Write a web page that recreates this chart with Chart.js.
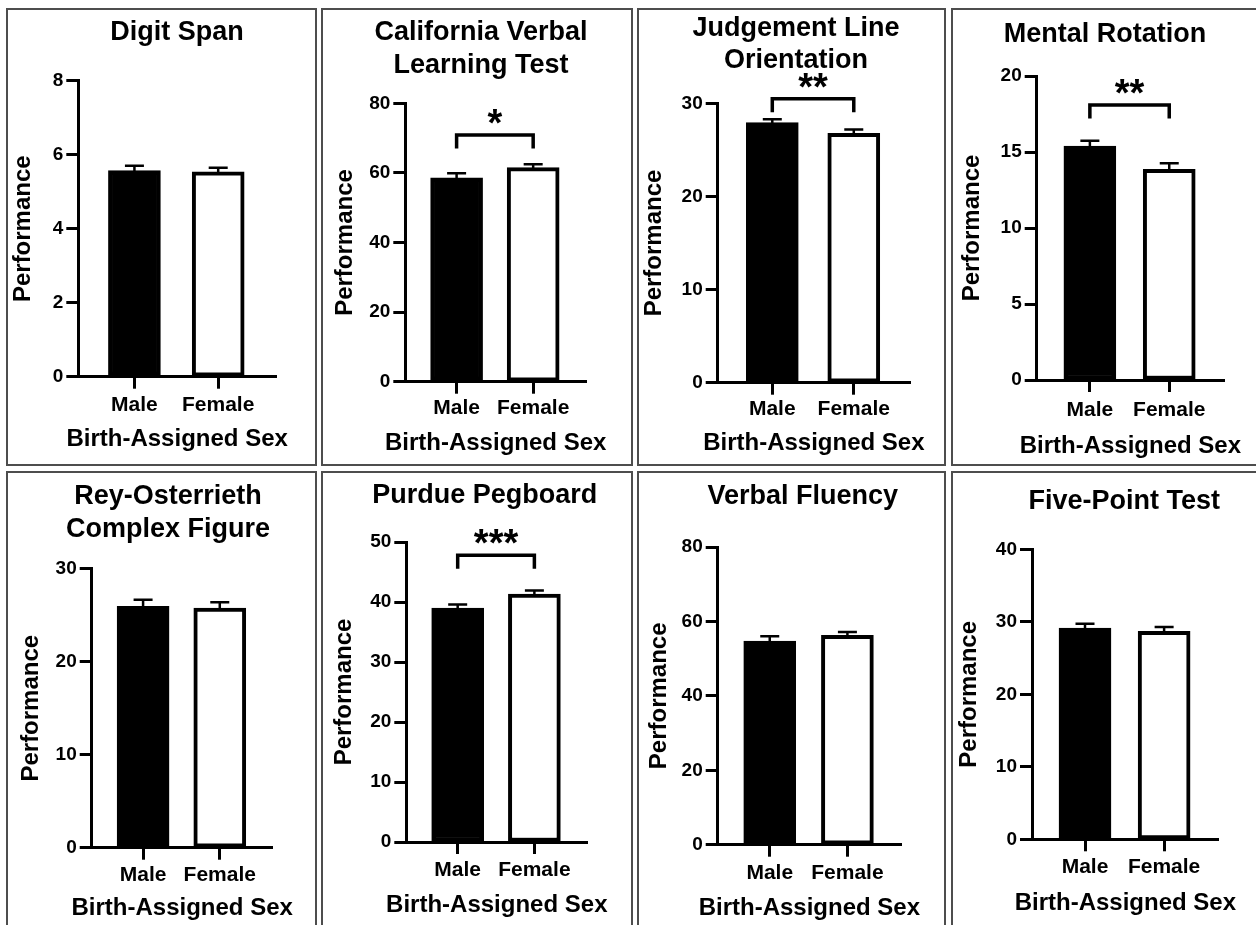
<!DOCTYPE html>
<html><head><meta charset="utf-8">
<script src="https://cdn.jsdelivr.net/npm/chart.js@4.4.1/dist/chart.umd.min.js"></script>
<style>
html,body{margin:0;padding:0;background:#fff;}
body{width:1256px;height:925px;position:relative;overflow:hidden;}
.frame{position:absolute;box-sizing:border-box;border:2px solid #4d4d4d;}
canvas{position:absolute;}
</style></head><body>
<script>
// ---------------- data ----------------
const categories = ['Male', 'Female'];
const testNames = [
  ['Digit Span'],
  ['California Verbal', 'Learning Test'],
  ['Judgement Line', 'Orientation'],
  ['Mental Rotation'],
  ['Rey-Osterrieth', 'Complex Figure'],
  ['Purdue Pegboard'],
  ['Verbal Fluency'],
  ['Five-Point Test']
];
const maleMean   = [5.57, 58.6, 27.92, 15.39, 25.96, 39.0, 54.74, 29.14];
const maleSem    = [0.13, 1.3, 0.38, 0.35, 0.71, 0.6, 1.26, 0.6];
const femaleMean = [5.54, 61.5, 26.78, 13.86, 25.77, 41.33, 56.27, 28.69];
const femaleSem  = [0.11, 1.0, 0.42, 0.40, 0.63, 0.57, 0.89, 0.59];
const yMax  = [8, 80, 30, 20, 30, 50, 80, 40];
const yStep = [2, 20, 10, 5, 10, 10, 20, 10];
const sigLabel = ['', '*', '**', '**', '', '***', '', ''];
const sigLevel = [null, 70.9, 30.5, 18.1, null, 47.8, null, null];
const yAxisTitle = 'Performance';
const xAxisTitle = 'Birth-Assigned Sex';

// ---------------- layout (page coordinates) ----------------
const FONT = "'Liberation Sans', Arial, Helvetica, sans-serif";
const colLeft = [6, 321, 637, 951], colWidth = [311, 312, 309, 320];
const rowTop = [8, 471], rowHeight = [458, 470];
const guide = [
  {axisX:78.3,  topY:80.7,  zeroY:376.7, rightX:276,    titleC:177,    titleY:33,    catY:405,   xTitleY:439,   yTitleX:23},
  {axisX:405.3, topY:103.3, zeroY:381.7, rightX:586,    titleC:481,    titleY:33,    catY:408,   xTitleY:443,   yTitleX:345},
  {axisX:717.7, topY:103.3, zeroY:382.7, rightX:910,    titleC:796,    titleY:28.3,  catY:409,   xTitleY:443,   yTitleX:654},
  {axisX:1036.7,topY:76,    zeroY:380,   rightX:1224,   titleC:1105,   titleY:35,    catY:410,   xTitleY:446.7, yTitleX:972.7},
  {axisX:91.7,  topY:568.7, zeroY:847.7, rightX:272.7,  titleC:168,    titleY:497,   catY:875.3, xTitleY:908.7, yTitleX:31.7},
  {axisX:406.3, topY:542,   zeroY:842,   rightX:587.3,  titleC:484.7,  titleY:495.3, catY:870.3, xTitleY:905.3, yTitleX:344.7},
  {axisX:717.7, topY:547,   zeroY:844.7, rightX:901,    titleC:802.7,  titleY:497,   catY:873.7, xTitleY:908.7, yTitleX:659.3},
  {axisX:1032,  topY:549.3, zeroY:839.3, rightX:1218.7, titleC:1124.3, titleY:502,   catY:867,   xTitleY:903.7, yTitleX:969.3}
];
const TITLE_SIZE = 27, AXIS_SIZE = 24, CAT_SIZE = 21, TICK_SIZE = 19, LH = 1.2;

function errorBarPlugin(p) {
  return { id: 'errorBars', afterDatasetsDraw(chart) {
    const ctx = chart.ctx, ys = chart.scales.y, meta = chart.getDatasetMeta(0);
    const means = [maleMean[p], femaleMean[p]], sems = [maleSem[p], femaleSem[p]];
    ctx.save(); ctx.strokeStyle = '#000'; ctx.lineWidth = 2.5;
    meta.data.forEach((bar, i) => {
      const yb = ys.getPixelForValue(means[i]);
      const yt = ys.getPixelForValue(means[i] + sems[i]);
      ctx.beginPath();
      ctx.moveTo(bar.x, yb + 2); ctx.lineTo(bar.x, yt);
      ctx.moveTo(bar.x - 9.5, yt); ctx.lineTo(bar.x + 9.5, yt);
      ctx.stroke();
    });
    ctx.restore();
  }};
}
function sigPlugin(p) {
  return { id: 'significance', afterDatasetsDraw(chart) {
    if (!sigLabel[p]) return;
    const ctx = chart.ctx, xs = chart.scales.x, ys = chart.scales.y;
    const x1 = xs.getPixelForValue(1), x2 = xs.getPixelForValue(2), y = ys.getPixelForValue(sigLevel[p]);
    ctx.save(); ctx.strokeStyle = '#000'; ctx.lineWidth = 3.5; ctx.lineJoin = 'miter';
    ctx.beginPath(); ctx.moveTo(x1, y + 13.5); ctx.lineTo(x1, y); ctx.lineTo(x2, y); ctx.lineTo(x2, y + 13.5); ctx.stroke();
    ctx.fillStyle = '#000'; ctx.font = 'bold 38px ' + FONT; ctx.textAlign = 'center'; ctx.textBaseline = 'alphabetic';
    ctx.fillText(sigLabel[p], (x1 + x2) / 2, y + 1);
    ctx.restore();
  }};
}
function textPlugin(p, g, x0, y0) {
  return { id: 'panelText', afterDraw(chart) {
    const ctx = chart.ctx, a = chart.chartArea;
    ctx.save(); ctx.fillStyle = '#000'; ctx.textAlign = 'center'; ctx.textBaseline = 'middle';
    ctx.font = 'bold ' + TITLE_SIZE + 'px ' + FONT;
    testNames[p].forEach((line, i) => ctx.fillText(line, g.titleC - x0, g.titleY - y0 + i * TITLE_SIZE * LH));
    ctx.font = 'bold ' + AXIS_SIZE + 'px ' + FONT;
    ctx.fillText(xAxisTitle, (a.left + a.right) / 2, g.xTitleY - y0);
    ctx.restore();
  }};
}

for (let p = 0; p < 8; p++) {
  const c = p % 4, r = Math.floor(p / 4);
  const frame = document.createElement('div');
  frame.className = 'frame';
  Object.assign(frame.style, {left: colLeft[c] + 'px', top: rowTop[r] + 'px', width: colWidth[c] + 'px', height: rowHeight[r] + 'px'});
  document.body.appendChild(frame);

  const x0 = colLeft[c] + 2, y0 = rowTop[r] + 2;
  const w = Math.min(colWidth[c] - 4, 1256 - x0), h = Math.min(rowHeight[r] - 4, 925 - y0);
  const cv = document.createElement('canvas');
  cv.width = w; cv.height = h;
  Object.assign(cv.style, {left: x0 + 'px', top: y0 + 'px', width: w + 'px', height: h + 'px'});
  document.body.appendChild(cv);

  const g = guide[p];
  const pr = x0 + w - g.rightX;
  const pt = g.topY - y0;
  const wy = g.axisX - x0;
  const hx = y0 + h - g.zeroY;
  const xTickPad = g.catY - g.zeroY - 12 - CAT_SIZE * LH / 2;
  const yTitlePad = g.yTitleX - x0 - AXIS_SIZE * LH / 2;

  const gridOpts = {display: true, drawOnChartArea: false, drawTicks: true, tickLength: 12, tickWidth: 3, tickColor: '#000', color: '#000', offset: false};
  const borderOpts = {display: true, color: '#000', width: 3};

  new Chart(cv, {
    type: 'bar',
    data: { datasets: [{
      label: testNames[p].join(' '),
      data: [{x: 1, y: maleMean[p]}, {x: 2, y: femaleMean[p]}],
      backgroundColor: ['#000', '#fff'], borderColor: '#000', borderWidth: 4,
      borderSkipped: false, barThickness: 52
    }]},
    options: {
      responsive: false, animation: false, devicePixelRatio: 1,
      layout: {padding: {left: 0, right: pr, top: pt, bottom: 0}},
      plugins: {legend: {display: false}, tooltip: {enabled: false}, title: {display: false}},
      scales: {
        x: {
          type: 'linear', min: 0.33, max: 2.69, offset: false,
          afterFit: s => { s.height = hx; },
          afterBuildTicks: s => { s.ticks = [{value: 1}, {value: 2}]; },
          grid: gridOpts, border: borderOpts,
          ticks: {color: '#000', font: {family: FONT, size: CAT_SIZE, weight: 'bold', lineHeight: LH},
            padding: xTickPad, maxRotation: 0, autoSkip: false,
            callback: v => categories[Math.round(v) - 1] || ''}
        },
        y: {
          type: 'linear', min: 0, max: yMax[p],
          afterFit: s => { s.width = wy; },
          grid: gridOpts, border: borderOpts,
          ticks: {stepSize: yStep[p], color: '#000', padding: 3,
            font: {family: FONT, size: TICK_SIZE, weight: 'bold'}},
          title: {display: true, text: yAxisTitle, color: '#000',
            font: {family: FONT, size: AXIS_SIZE, weight: 'bold', lineHeight: LH},
            padding: {top: yTitlePad, bottom: 0}}
        }
      }
    },
    plugins: [errorBarPlugin(p), sigPlugin(p), textPlugin(p, g, x0, y0)]
  });
}
</script>
</body></html>
